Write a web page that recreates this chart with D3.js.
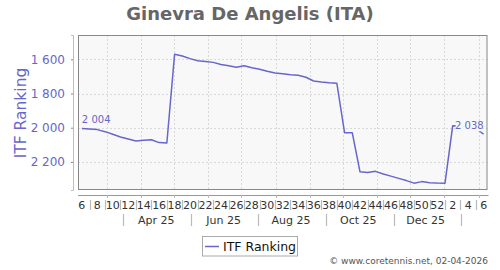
<!DOCTYPE html>
<html lang="en">
<head>
<meta charset="UTF-8">
<title>ITF Ranking</title>
<style>
  body { margin: 0; background: #fff; }
  text { font-family: "DejaVu Sans", sans-serif; }
</style>
</head>
<body>
<script src="https://cdn.jsdelivr.net/npm/d3@7/dist/d3.min.js"></script>
<script>
// week start (monday) of each ranking
var weekStarts = [
  "2025-02-03","2025-02-10","2025-02-17","2025-02-24","2025-03-03","2025-03-10","2025-03-17","2025-03-24",
  "2025-03-31","2025-04-07","2025-04-14","2025-04-21","2025-04-28","2025-05-05","2025-05-12","2025-05-19",
  "2025-05-26","2025-06-02","2025-06-09","2025-06-16","2025-06-23","2025-06-30","2025-07-07","2025-07-14",
  "2025-07-21","2025-07-28","2025-08-04","2025-08-11","2025-08-18","2025-08-25","2025-09-01","2025-09-08",
  "2025-09-15","2025-09-22","2025-09-29","2025-10-06","2025-10-13","2025-10-20","2025-10-27","2025-11-03",
  "2025-11-10","2025-11-17","2025-11-24","2025-12-01","2025-12-08","2025-12-15","2025-12-22","2025-12-29",
  "2026-01-05","2026-01-12","2026-01-19","2026-01-26","2026-02-02"
];
var ranking = [
  2004, 2007, 2011, 2023, 2038, 2054, 2066, 2077,
  2073, 2070, 2087, 2089, 1571, 1581, 1596, 1608,
  1613, 1618, 1630, 1638, 1646, 1638, 1650, 1658,
  1670, 1680, 1685, 1690, 1693, 1705, 1727, 1733,
  1737, 1740, 2029, 2030, 2258, 2262, 2255, 2270,
  2283, 2296, 2309, 2324, 2315, 2321, 2323, 2324,
  1988, 1990, 1998, 2004, 2038
];
var weekLabels = ["6","8","10","12","14","16","18","20","22","24","26","28","30","32","34","36",
  "38","40","42","44","46","48","50","52","2","4","6"];
var monthLabels = ["Apr 25","Jun 25","Aug 25","Oct 25","Dec 25"];
var yTicks = [1600, 1800, 2000, 2200];

var W = 500, H = 270;
var pL = 78, pR = 487.5, pT = 35, pB = 190;
var col = "#6666cc";

var parse = d3.timeParse("%Y-%m-%d");
var day = 864e5;
var data = weekStarts.map(function(s, i) {
  return { date: new Date(parse(s).getTime() + 3.5 * day), v: ranking[i] };
});

var x = d3.scaleTime()
  .domain([parse("2025-02-03"), parse("2026-02-09")])
  .range([pL, pR]);
var y = d3.scaleLinear().domain([1458, 2364]).range([pT, pB]);

var fmt = d3.formatLocale({ decimal: ".", thousands: " ", grouping: [3], currency: ["", ""] }).format(",d");

var svg = d3.select("body").append("svg").attr("width", W).attr("height", H);

svg.append("text").attr("x", 250).attr("y", 20).attr("text-anchor", "middle")
  .attr("font-size", 18).attr("font-weight", "bold").attr("fill", "#666")
  .text("Ginevra De Angelis (ITA)");

// plot area
svg.append("rect").attr("x", pL).attr("y", pT).attr("width", pR - pL).attr("height", pB - pT)
  .attr("fill", "#f8f8f8");

var months = d3.timeMonth.range(parse("2025-02-04"), parse("2026-02-09"));
svg.append("g").selectAll("line").data(months).enter().append("line")
  .attr("x1", function(d) { return Math.round(x(d)) + 0.5; })
  .attr("x2", function(d) { return Math.round(x(d)) + 0.5; })
  .attr("y1", pT).attr("y2", pB)
  .attr("stroke", "#d8d8d8").attr("stroke-dasharray", "2,2");

svg.append("g").selectAll("line").data(yTicks).enter().append("line")
  .attr("x1", pL).attr("x2", pR)
  .attr("y1", function(d) { return Math.round(y(d)) + 0.5; })
  .attr("y2", function(d) { return Math.round(y(d)) + 0.5; })
  .attr("stroke", "#d8d8d8").attr("stroke-dasharray", "2,2");

// line
var line = d3.line().x(function(d) { return x(d.date); }).y(function(d) { return y(d.v); });
svg.append("path").datum(data).attr("d", line)
  .attr("fill", "none").attr("stroke", col).attr("stroke-width", 1.5)
  .attr("stroke-linejoin", "round");

// value labels
var first = data[0], last = data[data.length - 1];
svg.append("text").attr("x", x(first.date)).attr("y", y(first.v) - 5)
  .attr("font-size", 10).attr("fill", col).text(fmt(first.v));
var lastLbl = svg.append("g");
lastLbl.append("rect").attr("x", x(last.date) - 28).attr("y", y(last.v) - 13)
  .attr("width", 26).attr("height", 10).attr("fill", "#f8f8f8");
lastLbl.append("text").attr("x", x(last.date)).attr("y", y(last.v) - 5).attr("text-anchor", "end")
  .attr("font-size", 10).attr("fill", col).text(fmt(last.v));

svg.append("rect").attr("x", pL + 0.5).attr("y", pT + 0.5).attr("width", pR - pL - 1).attr("height", pB - pT - 1)
  .attr("fill", "none").attr("stroke", "#888");

// y axis
var yAxis = d3.axisLeft(y).tickValues(yTicks).tickSize(2).tickPadding(6).tickFormat(fmt);
var gy = svg.append("g").attr("transform", "translate(73,0)").call(yAxis);
gy.select(".domain").attr("stroke", "#b8b8e0");
gy.selectAll(".tick line").attr("stroke", "#888");
gy.selectAll("text").attr("font-size", 12).attr("fill", col).attr("font-family", "DejaVu Sans");

svg.append("text").attr("transform", "translate(26,113) rotate(-90)").attr("text-anchor", "middle")
  .attr("font-size", 15.5).attr("fill", col).text("ITF Ranking");

// x axis line and month ticks
svg.append("line").attr("x1", pL).attr("x2", pR + 1).attr("y1", 195.5).attr("y2", 195.5).attr("stroke", "#999");
svg.append("g").selectAll("line").data(months).enter().append("line")
  .attr("x1", function(d) { return Math.round(x(d)) + 0.5; })
  .attr("x2", function(d) { return Math.round(x(d)) + 0.5; })
  .attr("y1", 195).attr("y2", 198).attr("stroke", "#bbb");

// week band
var evenWeeks = data.filter(function(d, i) { return i % 2 === 0; });
var oddWeeks = data.filter(function(d, i) { return i % 2 === 1; });
svg.append("g").selectAll("text").data(evenWeeks).enter().append("text")
  .attr("x", function(d) { return x(d.date); }).attr("y", 209).attr("text-anchor", "middle")
  .attr("font-size", 11).attr("fill", "#333").text(function(d, i) { return weekLabels[i]; });
svg.append("g").selectAll("line").data(oddWeeks).enter().append("line")
  .attr("x1", function(d) { return Math.round(x(d.date)) + 0.5; })
  .attr("x2", function(d) { return Math.round(x(d.date)) + 0.5; })
  .attr("y1", 200).attr("y2", 210).attr("stroke", "#bbb").attr("stroke-width", 1.2);

// month band
var monthMid = ["2025-04-15","2025-06-15","2025-08-15","2025-10-15","2025-12-15"];
var monthSep = ["2025-03-16","2025-05-16","2025-07-16","2025-09-16","2025-11-16","2026-01-16"];
svg.append("g").selectAll("text").data(monthMid).enter().append("text")
  .attr("x", function(d) { return x(parse(d)); }).attr("y", 224).attr("text-anchor", "middle")
  .attr("font-size", 11).attr("fill", "#333").text(function(d, i) { return monthLabels[i]; });
svg.append("g").selectAll("line").data(monthSep).enter().append("line")
  .attr("x1", function(d) { return Math.round(x(parse(d))) + 0.5; })
  .attr("x2", function(d) { return Math.round(x(parse(d))) + 0.5; })
  .attr("y1", 214).attr("y2", 226).attr("stroke", "#bbb").attr("stroke-width", 1.2);

// legend
svg.append("rect").attr("x", 202.5).attr("y", 236.5).attr("width", 95).attr("height", 19.5)
  .attr("fill", "#fff").attr("stroke", "#aaa");
svg.append("line").attr("x1", 205).attr("x2", 219).attr("y1", 246.5).attr("y2", 246.5)
  .attr("stroke", col).attr("stroke-width", 1.5);
svg.append("text").attr("x", 223).attr("y", 251).attr("font-size", 12.5).attr("fill", "#111").text("ITF Ranking");

svg.append("text").attr("x", 488).attr("y", 264).attr("text-anchor", "end")
  .attr("font-size", 9).attr("fill", "#555").text("© www.coretennis.net, 02-04-2026");
</script>
</body>
</html>
